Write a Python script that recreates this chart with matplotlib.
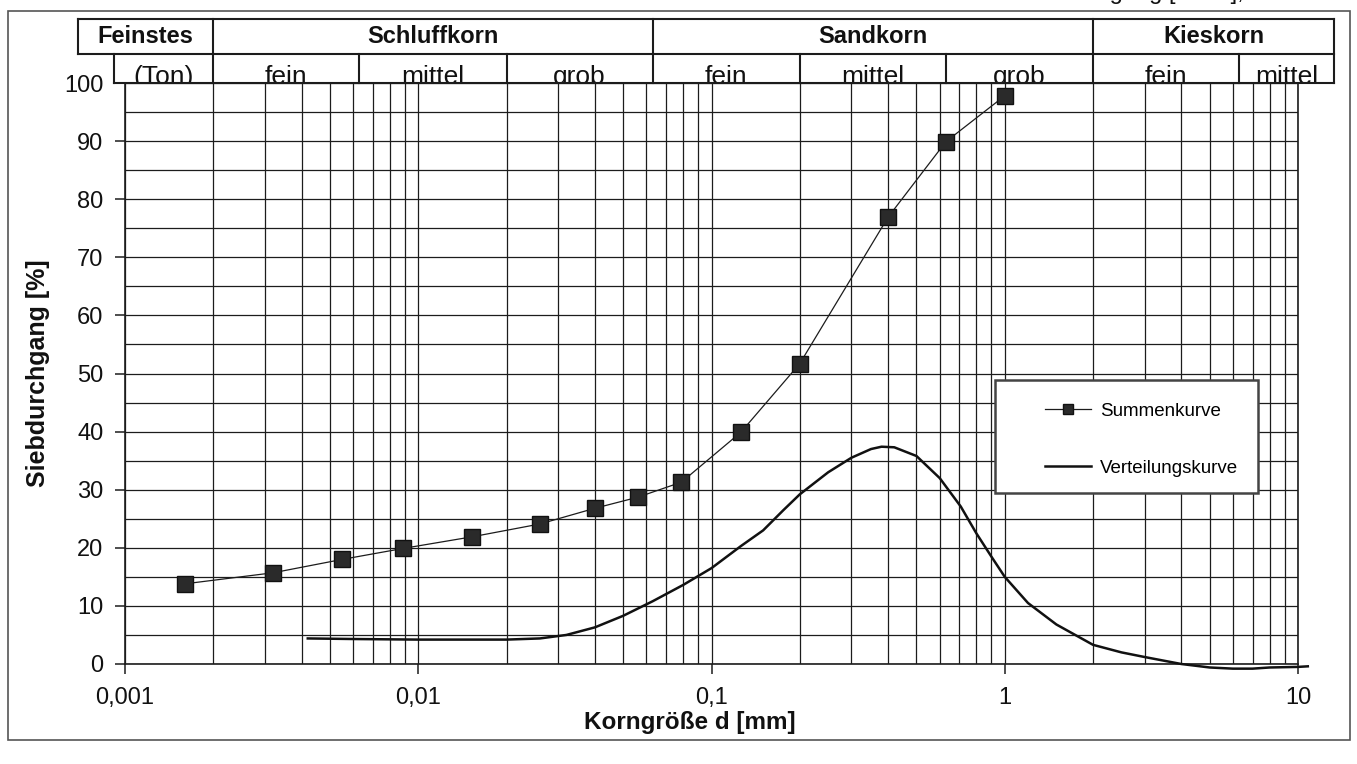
import matplotlib
matplotlib.use("Agg")
import matplotlib.pyplot as plt
import matplotlib.transforms as mtransforms
from matplotlib.ticker import LogLocator, MultipleLocator, FixedLocator, FixedFormatter, NullFormatter
from matplotlib.lines import Line2D
from matplotlib.patches import Rectangle

plt.rcParams['font.family'] = ['Liberation Sans', 'DejaVu Sans']

# Summenkurve (Siebdurchgang) - Messpunkte
d_summe = [0.0016, 0.0032, 0.0055, 0.0089, 0.0153, 0.026, 0.040, 0.056, 0.079, 0.126, 0.20, 0.40, 0.63, 1.0]
p_summe = [13.8, 15.7, 18.0, 19.9, 21.9, 24.1, 26.8, 28.7, 31.3, 39.9, 51.7, 76.9, 89.9, 97.8]

d_vert = [0.0042, 0.006, 0.01, 0.015, 0.02, 0.026, 0.032, 0.04, 0.05, 0.063, 0.08, 0.1, 0.126, 0.15,
          0.176, 0.2, 0.25, 0.3, 0.35, 0.38, 0.42, 0.5, 0.6, 0.708, 0.8, 0.9, 1.0, 1.2, 1.5, 2.0,
          2.5, 3.0, 4.0, 5.0, 6.0, 7.0, 8.0, 10.0, 10.8]
p_vert = [4.4, 4.3, 4.2, 4.2, 4.2, 4.4, 5.0, 6.3, 8.3, 10.8, 13.6, 16.5, 20.3, 23.0,
          26.5, 29.2, 33.0, 35.5, 37.0, 37.4, 37.3, 35.8, 32.0, 27.1, 22.5, 18.5, 15.0, 10.5, 6.8, 3.3,
          2.0, 1.2, 0.0, -0.6, -0.8, -0.8, -0.6, -0.5, -0.4]

x_ticks = [0.001, 0.01, 0.1, 1, 10]
x_ticklabels = ['0,001', '0,01', '0,1', '1', '10']
y_ticks = list(range(0, 101, 10))

# Kopftabelle: Bodenarten
grenzen_haupt = [0.00069, 0.002, 0.063, 2.0, 13.3]
namen_haupt = ['Feinstes', 'Schluffkorn', 'Sandkorn', 'Kieskorn']
grenzen_unter = [0.00092, 0.002, 0.0063, 0.02, 0.063, 0.2, 0.63, 2.0, 6.3, 13.3]
namen_unter = ['(Ton)', 'fein', 'mittel', 'grob', 'fein', 'mittel', 'grob', 'fein', 'mittel']

W, H = 1357, 764
fig = plt.figure(figsize=(W / 100, H / 100), dpi=100)
ax = fig.add_axes([125 / W, 1 - 664 / H, (1298 - 125) / W, (664 - 83) / H])

ink = '#1c1c1c'

ax.set_xscale('log')
ax.set_xlim(0.001, 10)
ax.set_ylim(0, 100)
ax.xaxis.set_major_locator(FixedLocator(x_ticks))
ax.xaxis.set_major_formatter(FixedFormatter(x_ticklabels))
ax.xaxis.set_minor_locator(LogLocator(base=10, subs=range(2, 10)))
ax.xaxis.set_minor_formatter(NullFormatter())
ax.yaxis.set_major_locator(FixedLocator(y_ticks))
ax.yaxis.set_minor_locator(MultipleLocator(5))

ax.grid(True, which='both', color=ink, lw=0.9)
ax.set_axisbelow(True)
ax.tick_params(axis='both', which='major', direction='out', length=7.5, width=1.1, color=ink,
               labelsize=17, labelcolor='#111111')
ax.tick_params(axis='x', which='major', pad=9)
ax.tick_params(axis='y', which='major', pad=8)
ax.tick_params(axis='both', which='minor', length=0)
for s in ax.spines.values():
    s.set_color(ink)
    s.set_linewidth(1.2)

ax.plot(d_summe, p_summe, color=ink, lw=0.9, marker='s', markersize=12,
        markerfacecolor='#2a2a2a', markeredgecolor='#111111', zorder=4)
ax.plot(d_vert, p_vert, color='#111111', lw=1.8, zorder=3, clip_on=False)

# Legende
ax.add_patch(Rectangle((0.7417, 0.2943), 0.2243, 0.1945, transform=ax.transAxes,
                       facecolor='white', edgecolor='#444444', lw=1.8, zorder=5))
handles = [Line2D([], [], color=ink, lw=0.9, marker='s', markersize=7,
                  markerfacecolor='#2a2a2a', markeredgecolor='#111111'),
           Line2D([], [], color='#111111', lw=1.8)]
leg = ax.legend(handles, ['Summenkurve', 'Verteilungskurve'], loc='center left',
                bbox_to_anchor=(0.7767, 0.386), frameon=False, fontsize=13.5,
                handlelength=2.45, handletextpad=0.45, labelspacing=2.1, borderpad=0)
leg.set_zorder(6)

# Achsenbeschriftungen
fig.text(38 / W, 1 - 373 / H, 'Siebdurchgang [%]', rotation=90, ha='center', va='center',
         fontsize=18, fontweight='bold', color='#111111')
fig.text(690 / W, 1 - 722 / H, 'Korngröße d [mm]', ha='center', va='center',
         fontsize=17.5, fontweight='bold', color='#111111')

# Kopftabelle
trans = mtransforms.blended_transform_factory(ax.transData, fig.transFigure)
y_top, y_mid, y_bot = 1 - 19 / H, 1 - 54 / H, 1 - 83 / H


def hline(x0, x1, y):
    fig.add_artist(Line2D([x0, x1], [y, y], transform=trans, color=ink, lw=1.5))


def vline(x, y0, y1):
    fig.add_artist(Line2D([x, x], [y0, y1], transform=trans, color=ink, lw=1.5))


hline(grenzen_haupt[0], grenzen_haupt[-1], y_top)
hline(grenzen_haupt[0], grenzen_haupt[-1], y_mid)
hline(grenzen_unter[0], grenzen_unter[-1], y_bot)
vline(grenzen_haupt[0], y_top, y_mid)
vline(grenzen_unter[0], y_mid, y_bot)
for g in grenzen_haupt[1:]:
    vline(g, y_top, y_bot)
for g in grenzen_unter[1:-1]:
    if g not in grenzen_haupt:
        vline(g, y_mid, y_bot)

for i, name in enumerate(namen_haupt):
    xc = (grenzen_haupt[i] * grenzen_haupt[i + 1]) ** 0.5
    fig.text(xc, (y_top + y_mid) / 2, name, transform=trans, ha='center', va='center',
             fontsize=17, fontweight='bold', color='#111111')
for i, name in enumerate(namen_unter):
    xc = (grenzen_unter[i] * grenzen_unter[i + 1]) ** 0.5
    fig.text(xc, 1 - 84 / H, name, transform=trans, ha='center', va='baseline',
             fontsize=19, color='#111111', zorder=-1)

# abgeschnittene Kopfzeile oben rechts
fig.text(1322 / W, 1 + 1 / H, 'Siebdurchgang [M.-%], Anteil /', ha='right', va='baseline',
         fontsize=17, color='#111111')

# Rahmen
fig.add_artist(Rectangle((8 / W, 1 - 740 / H), (1350 - 8) / W, (740 - 11) / H,
                         transform=fig.transFigure, fill=False, edgecolor='#555555', lw=1.2))

fig.savefig('out.png', dpi=100)
